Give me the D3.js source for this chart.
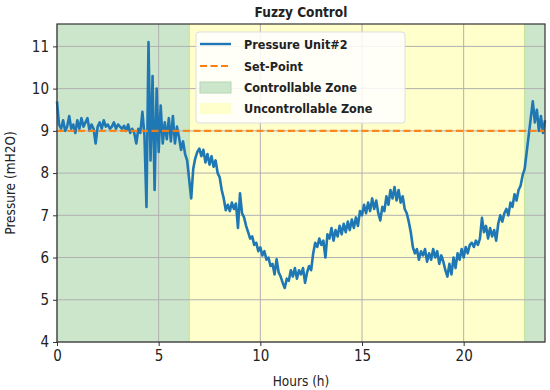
<!DOCTYPE html>
<html><head><meta charset="utf-8">
<script src="https://cdn.jsdelivr.net/npm/d3@7/dist/d3.min.js"></script>
<style>
html,body{margin:0;padding:0;background:#fff;}
text{font-family:"DejaVu Sans Condensed","Liberation Sans Narrow","Roboto",sans-serif;fill:#222;}
</style></head>
<body><svg id="c" width="550" height="390"></svg>
<script>
// time step 0.1 h from 0 to 24
const timeStep = 0.1;
const pressure = [
9.70,9.15,9.05,9.25,9.00,9.10,9.35,9.05,9.15,8.95,
9.25,9.05,9.30,9.10,9.20,9.30,9.00,9.15,9.05,8.70,
9.10,9.20,9.05,9.25,9.10,9.15,9.05,9.10,9.20,9.05,
9.15,9.10,9.05,9.12,9.00,9.15,8.95,9.05,8.95,8.70,
9.05,8.95,9.45,8.90,7.20,11.10,8.30,10.30,7.60,10.00,
8.50,9.60,8.70,9.20,8.80,9.30,8.75,9.35,8.70,9.10,
8.85,8.55,8.75,8.45,8.30,7.85,7.40,8.10,8.35,8.50,
8.58,8.40,8.55,8.25,8.45,8.20,8.40,8.15,8.30,8.00,
7.90,7.60,7.40,7.12,7.25,7.10,7.30,7.15,7.28,6.70,
7.52,7.05,6.95,6.75,6.60,6.45,6.50,6.30,6.35,6.15,
6.24,6.05,6.15,5.95,6.00,5.80,5.85,5.60,5.96,5.65,
5.55,5.40,5.28,5.50,5.45,5.70,5.55,5.75,5.50,5.70,
5.60,5.75,5.40,5.65,5.80,5.70,6.10,6.35,6.25,6.45,
6.30,6.40,6.00,6.55,6.45,6.70,6.40,6.65,6.50,6.75,
6.55,6.80,6.60,6.85,6.65,6.90,6.70,6.95,6.75,7.10,
7.00,7.25,7.05,7.30,7.10,7.40,7.15,7.35,7.05,6.88,
7.20,7.10,7.45,7.25,7.60,7.40,7.67,7.35,7.60,7.30,
7.45,7.15,7.05,6.85,6.60,6.25,6.10,6.20,5.95,6.15,
6.05,6.20,5.90,6.10,5.95,6.20,6.00,6.15,5.85,6.05,
5.90,5.70,5.55,5.85,5.60,6.00,5.75,6.10,5.95,6.20,
6.00,6.25,6.10,6.30,6.35,6.25,6.40,6.30,6.45,6.94,
6.60,6.75,6.45,6.70,6.50,6.65,6.40,6.80,7.00,6.85,
7.05,7.15,7.00,7.30,7.20,7.50,7.35,7.60,7.70,7.95,
8.10,8.50,8.90,9.30,9.70,9.20,9.50,9.00,9.35,8.95,
9.25];
const setPoint = 9.0;
const controllableZones = [[0, 6.5], [23, 24]];
const uncontrollableZones = [[6.5, 23]];
const xTicks = [0, 5, 10, 15, 20];
const yTicks = [4, 5, 6, 7, 8, 9, 10, 11];
const legendLabels = ["Pressure Unit#2", "Set-Point", "Controllable Zone", "Uncontrollable Zone"];

const L = 57, R = 545, T = 24, B = 342;
const svg = d3.select("#c");
const x = d3.scaleLinear().domain([0, 24]).range([L, R]);
const y = d3.scaleLinear().domain([4, 11.53]).range([B, T]);

const green = "#cce6cc", yellow = "#ffffcc";
svg.append("g").selectAll("rect").data(controllableZones).join("rect")
  .attr("x", d => x(d[0])).attr("width", d => x(d[1]) - x(d[0]))
  .attr("y", T).attr("height", B - T).attr("fill", green);
svg.append("g").selectAll("rect").data(uncontrollableZones).join("rect")
  .attr("x", d => x(d[0])).attr("width", d => x(d[1]) - x(d[0]))
  .attr("y", T).attr("height", B - T).attr("fill", yellow);
// zone edges
svg.append("g").selectAll("line").data(uncontrollableZones.flat()).join("line")
  .attr("x1", d => x(d)).attr("x2", d => x(d)).attr("y1", T).attr("y2", B)
  .attr("stroke", "#c8e6a0").attr("stroke-width", 1.5);

// grid
const grid = svg.append("g").attr("stroke", "#b0b0b0").attr("stroke-width", 1);
grid.selectAll(".gx").data(xTicks).join("line")
  .attr("x1", d => x(d)).attr("x2", d => x(d)).attr("y1", T).attr("y2", B);
grid.selectAll(".gy").data(yTicks).join("line")
  .attr("y1", d => y(d)).attr("y2", d => y(d)).attr("x1", L).attr("x2", R);

// pressure line
const data = pressure.map((v, i) => [i * timeStep, v]);
svg.append("path").datum(data)
  .attr("fill", "none").attr("stroke", "#1f77b4").attr("stroke-width", 2.6)
  .attr("stroke-linejoin", "round")
  .attr("d", d3.line().x(d => x(d[0])).y(d => y(d[1])));

// set point
svg.append("line").attr("x1", x(0)).attr("x2", x(24)).attr("y1", y(setPoint)).attr("y2", y(setPoint))
  .attr("stroke", "#ff7f0e").attr("stroke-width", 2.2).attr("stroke-dasharray", "7,3.5").attr("opacity", 0.9);

// frame
svg.append("rect").attr("x", L).attr("y", T).attr("width", R - L).attr("height", B - T)
  .attr("fill", "none").attr("stroke", "#333").attr("stroke-width", 1.2);

// axes
const xa = svg.append("g").attr("transform", `translate(0,${B})`)
  .call(d3.axisBottom(x).tickValues(xTicks).tickSize(4).tickPadding(4).tickFormat(d3.format("d")));
const ya = svg.append("g").attr("transform", `translate(${L},0)`)
  .call(d3.axisLeft(y).tickValues(yTicks).tickSize(4).tickPadding(4).tickFormat(d3.format("d")));
[xa, ya].forEach(a => {
  a.select(".domain").remove();
  a.selectAll(".tick line").attr("stroke", "#333");
  a.selectAll(".tick text").attr("font-size", 15).attr("fill", "#333");
});

svg.append("text").attr("x", (L + R) / 2).attr("y", 17).attr("text-anchor", "middle")
  .attr("font-size", 13.5).attr("font-weight", "bold").text("Fuzzy Control");
svg.append("text").attr("x", (L + R) / 2).attr("y", 386).attr("text-anchor", "middle")
  .attr("font-size", 13.5).text("Hours (h)");
svg.append("text").attr("transform", `translate(15,${(T + B) / 2}) rotate(-90)`).attr("text-anchor", "middle")
  .attr("font-size", 13.5).text("Pressure (mH2O)");

// legend
const lg = svg.append("g");
lg.append("rect").attr("x", 196).attr("y", 32).attr("width", 209).attr("height", 91).attr("rx", 3)
  .attr("fill", "rgba(255,255,255,0.85)").attr("stroke", "#dddddd");
const ly = [44, 66, 87, 108];
lg.append("line").attr("x1", 200).attr("x2", 231).attr("y1", ly[0]).attr("y2", ly[0])
  .attr("stroke", "#1f77b4").attr("stroke-width", 2.4);
lg.append("line").attr("x1", 200).attr("x2", 231).attr("y1", ly[1]).attr("y2", ly[1])
  .attr("stroke", "#ff7f0e").attr("stroke-width", 2.2).attr("stroke-dasharray", "7,3.5");
lg.append("rect").attr("x", 200).attr("y", ly[2] - 5).attr("width", 31).attr("height", 11).attr("fill", green).attr("stroke", "#b6d8b0");
lg.append("rect").attr("x", 200).attr("y", ly[3] - 5).attr("width", 31).attr("height", 11).attr("fill", yellow);
lg.selectAll(".lt").data(legendLabels).join("text")
  .attr("x", 244).attr("y", (d, i) => ly[i] + 4.5).attr("font-size", 12.5).attr("font-weight", "bold").attr("fill", "#222").text(d => d);
</script></body></html>
